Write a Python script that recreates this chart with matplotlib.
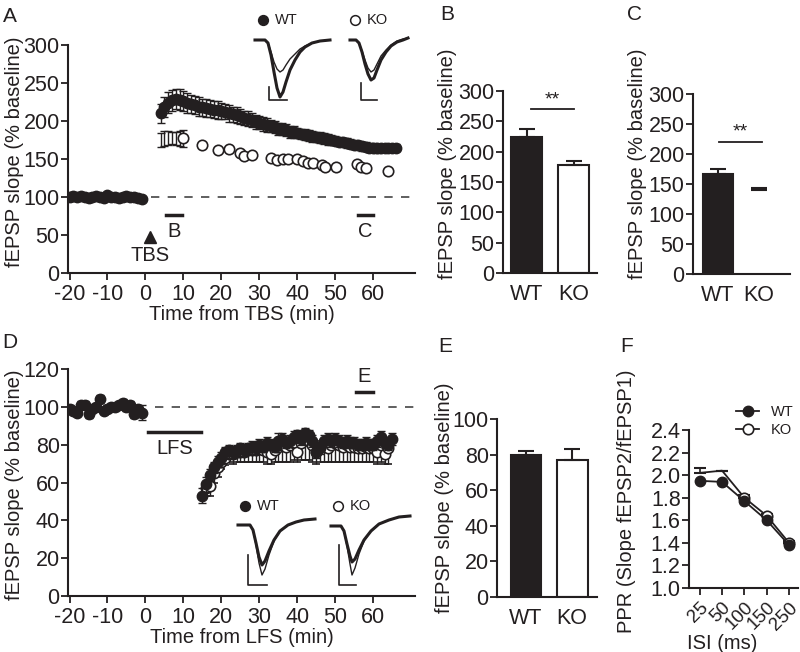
import numpy as np
import matplotlib
matplotlib.use('Agg')
import matplotlib.pyplot as plt
from matplotlib.lines import Line2D

plt.rcParams['font.family'] = ['Liberation Sans', 'DejaVu Sans']
plt.rcParams['font.size'] = 14.5
plt.rcParams['axes.unicode_minus'] = False
ink = '#231f20'
plt.rcParams['text.color'] = ink
plt.rcParams['axes.labelcolor'] = ink
plt.rcParams['xtick.color'] = ink
plt.rcParams['ytick.color'] = ink
plt.rcParams['xtick.labelsize'] = 15.5
plt.rcParams['ytick.labelsize'] = 15.5

# --- A: LTP after TBS ---
tbs_base_t = np.arange(-20, 0)
tbs_wt_base = [100, 101, 100, 101, 100, 99, 100, 101, 100, 99,
               102, 100, 100, 99, 100, 101, 100, 100, 99, 98]
tbs_wt_base_err = [2, 2, 1, 2, 2, 1, 2, 2, 1, 2, 2, 2, 1, 2, 2, 1, 2, 2, 1, 2]

tbs_wt_t = np.arange(4, 67)
tbs_wt = [210, 218, 224, 227, 229, 228, 226, 224, 222, 221,
          219, 218, 217, 216, 215, 214, 213, 212, 210, 209,
          208, 206, 204, 203, 201, 199, 198, 196, 195, 193,
          192, 190, 189, 188, 186, 185, 184, 183, 182, 181,
          180, 179, 178, 177, 176, 175, 174, 173, 172, 171,
          170, 169, 168, 167, 166, 165, 165, 164, 164, 164,
          164, 165, 165]
tbs_wt_err = [12, 13, 14, 14, 13, 14, 13, 13, 12, 12,
              12, 11, 12, 11, 11, 12, 11, 10, 11, 10,
              10, 10, 9, 10, 9, 9, 9, 9, 9, 8,
              8, 8, 8, 8, 8, 8, 7, 7, 7, 7,
              7, 7, 7, 7, 7, 6, 6, 6, 6, 6,
              6, 6, 6, 6, 6, 6, 6, 6, 5, 5,
              5, 5, 5]

tbs_ko_t = [4, 5, 6, 7, 8, 9, 10, 15, 19, 22, 25, 26, 28, 33, 34.6, 36.3,
            37.6, 39.8, 41.6, 42.9, 44.2, 46.4, 47.3, 50.2, 55.6, 56.9, 58.2, 63.9]
tbs_ko = [175, 177, 178, 178, 177, 177, 177, 168, 162, 163, 158, 154, 155, 151, 149, 150,
          150, 150, 147, 145, 145, 142, 140, 139, 144, 140, 138, 134]
tbs_ko_err = [9, 10, 9, 8, 9, 10, 11, 3, 3, 3, 3, 3, 3, 3, 3, 3,
              3, 3, 3, 3, 3, 3, 3, 3, 3, 3, 3, 3]
tbs_ko_shown = list(range(6, 28))

# --- B / C: LTP summary ---
groups = ['WT', 'KO']
b_vals = [224, 178]
b_err = [14, 7]
c_vals = [167, 140]
c_err = [8, 4]

# --- D: LTD after LFS ---
lfs_base_t = np.arange(-20, 0)
lfs_wt_base = [99, 98, 97, 101, 101, 96, 99, 100, 104, 98,
               99, 100, 100, 101, 102, 100, 101, 96, 99, 97]
lfs_wt_base_err = [2, 2, 2, 2, 2, 2, 2, 2, 2, 2, 2, 2, 2, 2, 2, 2, 2, 2, 2, 4]

lfs_wt_t = np.arange(15, 66)
lfs_wt = [53, 59, 64, 68, 71, 73, 76, 77, 76, 77,
          78, 77, 78, 79, 78, 80, 79, 81, 80, 79,
          82, 83, 81, 82, 84, 85, 83, 86, 85, 82,
          76, 78, 82, 83, 82, 83, 82, 81, 82, 81,
          81, 80, 80, 81, 80, 80, 82, 84, 81, 80,
          83]
lfs_wt_err = [4, 4, 3, 3, 3, 3, 3, 3, 3, 3,
              3, 3, 3, 3, 3, 3, 3, 3, 3, 3,
              4, 3, 3, 3, 3, 3, 3, 3, 3, 3,
              3, 3, 3, 3, 3, 3, 3, 3, 3, 3,
              3, 3, 3, 3, 3, 3, 3, 3, 3, 3,
              3]
lfs_ko_t = np.arange(16, 65)
lfs_ko = [57, 58, 65, 68, 71, 73, 75, 75, 76, 76,
          76, 77, 77, 77, 78, 77, 76, 75, 77, 79,
          80, 79, 80, 81, 76, 81, 83, 82, 80, 76,
          79, 80, 78, 80, 81, 80, 79, 80, 79, 79,
          78, 78, 79, 78, 78, 76, 80, 75, 78]
lfs_ko_err_lo = [4, 5, 5, 5, 4, 4, 4, 5, 5, 5,
                 5, 6, 6, 6, 7, 6, 6, 5, 6, 8,
                 9, 8, 9, 9, 5, 9, 11, 10, 9, 6,
                 8, 9, 7, 9, 10, 9, 8, 9, 8, 8,
                 7, 7, 8, 7, 7, 6, 9, 5, 8]
lfs_ko_err_hi = [3, 3, 3, 3, 3, 3, 3, 3, 3, 3,
                 3, 3, 3, 3, 3, 3, 3, 3, 3, 3,
                 3, 3, 3, 3, 3, 3, 3, 3, 3, 3,
                 3, 3, 3, 3, 3, 3, 3, 3, 3, 3,
                 3, 3, 3, 3, 3, 3, 3, 3, 3]

# --- E: LTD summary ---
e_vals = [80, 77]
e_err = [2, 6]

# --- F: paired-pulse ratio ---
isi = ['25', '50', '100', '150', '250']
ppr_wt = [1.95, 1.94, 1.77, 1.60, 1.38]
ppr_ko = [2.02, 2.04, 1.80, 1.64, 1.40]
ppr_ko_err = [0.04, 0.0, 0.02, 0.02, 0.02]
ppr_ko_shown = [2, 3, 4]

# --- example fEPSP traces (depth below baseline, px) ---
tr_a_wt_t = [0, 10, 13, 16, 19, 22, 25, 28, 31, 35, 40, 45, 50, 57, 65, 75]
tr_a_wt_post = [0, 0, 3, 15, 32, 48, 57, 52, 42, 30, 20, 12, 7, 3, 1, 0]
tr_a_wt_pre = [0, 0, 3, 12, 22, 29, 32, 30, 25, 19, 14, 9, 6, 3, 1, 0]
tr_a_ko_t = [0, 6, 9, 12, 15, 18, 21, 24, 27, 31, 36, 41, 47, 53, 58]
tr_a_ko_post = [0, 0, 3, 12, 24, 34, 40, 38, 30, 20, 12, 6, 2, 0, -2]
tr_a_ko_pre = [0, 0, 3, 11, 20, 28, 32, 30, 24, 16, 10, 5, 1, -1, -2]
tr_d_wt_t = [0, 12, 15, 18, 21, 24, 27, 31, 36, 42, 50, 58, 66, 77]
tr_d_wt_post = [0, 0, 5, 18, 32, 40, 36, 26, 15, 6, 0, -3, -5, -6]
tr_d_wt_pre = [0, 0, 5, 20, 38, 50, 44, 30, 16, 6, 0, -3, -5, -6]
tr_d_ko_t = [0, 10, 13, 16, 19, 21, 24, 28, 33, 40, 48, 58, 68, 79]
tr_d_ko_post = [0, 0, 5, 18, 30, 36, 33, 24, 14, 5, -2, -6, -9, -10]
tr_d_ko_pre = [0, 0, 5, 20, 38, 49, 42, 28, 15, 5, -2, -6, -9, -10]

W, H = 800, 652
fig = plt.figure(figsize=(8, 6.52), dpi=100)


def rect(l, t, r, b):
    return [l / W, 1 - b / H, (r - l) / W, (b - t) / H]


def style(ax):
    for s in ['top', 'right']:
        ax.spines[s].set_visible(False)
    for s in ['left', 'bottom']:
        ax.spines[s].set_linewidth(1.5)
        ax.spines[s].set_color(ink)
    ax.tick_params(width=1.3, length=5, pad=1)


ylab = 'fEPSP slope (% baseline)'

# ---------- A ----------
axA = fig.add_axes(rect(68, 45, 415, 273))
style(axA)
axA.errorbar(tbs_ko_t, tbs_ko, yerr=tbs_ko_err, fmt='none', ecolor=ink, elinewidth=1, capsize=3, zorder=2)
axA.plot(tbs_ko_t, tbs_ko, 'o', ms=7.5, mfc='white', mec=ink, mew=1.2, markevery=tbs_ko_shown, zorder=3)
axA.errorbar(tbs_base_t, tbs_wt_base, yerr=tbs_wt_base_err, fmt='o', ms=7.5, color=ink,
             elinewidth=1, capsize=2.5, zorder=4)
axA.errorbar(tbs_wt_t, tbs_wt, yerr=tbs_wt_err, fmt='o', ms=7.5, color=ink, mec=ink,
             elinewidth=1, capsize=3, zorder=4)
axA.axhline(100, xmin=0.24, color='#444444', lw=1.2, ls=(0, (5, 5)))
axA.plot([5.5, 9.5], [76, 76], color=ink, lw=2.5)
axA.plot([56, 60], [76, 76], color=ink, lw=2.5)
axA.text(7.5, 55, 'B', ha='center', va='center')
axA.text(58, 55, 'C', ha='center', va='center')
axA.plot([1.1], [48], marker='^', ms=8, color=ink)
axA.text(1.1, 23, 'TBS', ha='center', va='center')
axA.set_xlim(-20.4, 71)
axA.set_ylim(0, 300)
axA.set_xticks(range(-20, 61, 10))
axA.set_yticks(range(0, 301, 50))
axA.tick_params(axis='x', pad=3)
axA.set_xlabel('Time from TBS (min)', labelpad=0)
axA.set_ylabel(ylab)
axA.yaxis.set_label_coords(-0.127, 0.53)

# ---------- B ----------
axB = fig.add_axes(rect(503, 91, 597, 273))
style(axB)
axB.bar([0, 1], b_vals, width=0.64, color=[ink, 'white'], edgecolor=ink, linewidth=1.5)
axB.errorbar([0, 1], b_vals, yerr=[[0, 0], b_err], fmt='none', ecolor=ink, elinewidth=1.5, capsize=6, capthick=1.5)
axB.plot([0.1, 1.0], [270, 270], color=ink, lw=1.3)
axB.text(0.55, 272, '**', ha='center', va='bottom', fontsize=14)
axB.set_xlim(-0.5, 1.5)
axB.set_ylim(0, 300)
axB.set_yticks(range(0, 301, 50))
axB.set_xticks([0, 1])
axB.set_xticklabels(groups)
axB.tick_params(axis='x', length=0, pad=8)
axB.set_ylabel(ylab)
axB.yaxis.set_label_coords(-0.49, 0.6)

# ---------- C ----------
axC = fig.add_axes(rect(693, 94, 790, 274))
style(axC)
axC.bar([0, 1], c_vals, width=0.73, color=[ink, 'white'], edgecolor=[ink, 'none'], linewidth=1.5)
axC.errorbar([0, 1], c_vals, yerr=[[0, 0], c_err], fmt='none', ecolor=ink, elinewidth=1.5, capsize=6, capthick=1.5)
axC.plot([0.03, 1.07], [220, 220], color=ink, lw=1.3)
axC.text(0.55, 222, '**', ha='center', va='bottom', fontsize=14)
axC.set_xlim(-0.61, 1.76)
axC.set_ylim(0, 300)
axC.set_yticks(range(0, 301, 50))
axC.set_xticks([0, 1])
axC.set_xticklabels(groups)
axC.tick_params(axis='x', length=0, pad=8)
axC.set_ylabel(ylab)
axC.yaxis.set_label_coords(-0.47, 0.61)

# ---------- D ----------
axD = fig.add_axes(rect(68, 369, 415, 596))
style(axD)
axD.errorbar(lfs_ko_t, lfs_ko, yerr=[lfs_ko_err_lo, lfs_ko_err_hi], fmt='o', ms=7.5, mfc='white',
             mec=ink, mew=1.2, ecolor=ink, elinewidth=1, capsize=3, zorder=2)
axD.errorbar(lfs_base_t, lfs_wt_base, yerr=lfs_wt_base_err, fmt='o', ms=7.5, color=ink,
             elinewidth=1, capsize=3, zorder=4)
axD.errorbar(lfs_wt_t, lfs_wt, yerr=lfs_wt_err, fmt='o', ms=7.5, color=ink,
             elinewidth=1, capsize=3, zorder=4)
axD.axhline(100, xmin=0.25, color='#444444', lw=1.2, ls=(0, (5, 5)))
axD.plot([0.8, 14.7], [86.7, 86.7], color=ink, lw=2.5)
axD.text(7.8, 78, 'LFS', ha='center', va='center')
axD.plot([55.4, 60], [108, 108], color=ink, lw=2.5)
axD.text(57.7, 116, 'E', ha='center', va='center')
axD.set_xlim(-20.4, 71)
axD.set_ylim(0, 120)
axD.set_xticks(range(-20, 61, 10))
axD.set_yticks(range(0, 121, 20))
axD.tick_params(axis='x', pad=3)
axD.set_xlabel('Time from LFS (min)', labelpad=0)
axD.set_ylabel(ylab)
axD.yaxis.set_label_coords(-0.127, 0.49)

# ---------- E ----------
axE = fig.add_axes(rect(497, 419, 597, 597))
style(axE)
axE.bar([0, 1], e_vals, width=0.67, color=[ink, 'white'], edgecolor=ink, linewidth=1.5)
axE.errorbar([0, 1], e_vals, yerr=[[0, 0], e_err], fmt='none', ecolor=ink, elinewidth=1.5, capsize=6, capthick=1.5)
axE.set_xlim(-0.63, 1.54)
axE.set_ylim(0, 100)
axE.set_yticks(range(0, 101, 20))
axE.set_xticks([0, 1])
axE.set_xticklabels(groups)
axE.tick_params(axis='x', length=0, pad=8)
axE.set_ylabel(ylab)
axE.yaxis.set_label_coords(-0.43, 0.56)

# ---------- F ----------
axF = fig.add_axes(rect(689, 430, 798, 588))
style(axF)
xf = np.arange(len(isi))
axF.errorbar(xf, ppr_ko, yerr=[[0] * len(isi), ppr_ko_err], fmt='none', ecolor=ink,
             elinewidth=1.2, capsize=4, capthick=1.5, zorder=2)
axF.plot(xf, ppr_ko, '-o', color=ink, lw=1.3, ms=7.5, mfc='white', mec=ink, mew=1.2,
         markevery=ppr_ko_shown, zorder=3)
axF.plot(xf, ppr_wt, '-o', color=ink, lw=1.3, ms=7.5, zorder=4)
axF.set_xlim(-0.48, 4.4)
axF.set_ylim(1.0, 2.4)
axF.set_yticks(np.arange(1.0, 2.41, 0.2))
axF.yaxis.set_major_formatter(matplotlib.ticker.FormatStrFormatter('%.1f'))
axF.set_xticks(xf)
axF.set_xticklabels(isi, rotation=45, ha='right', rotation_mode='anchor', fontsize=13.5)
axF.tick_params(axis='x', pad=3)
axF.set_xlabel('ISI (ms)')
axF.xaxis.set_label_coords(0.30, -0.29)
axF.set_ylabel('PPR (Slope fEPSP2/fEPSP1)')
axF.yaxis.set_label_coords(-0.49, 0.55)
handles = [Line2D([], [], color=ink, marker='o', ms=7.5, lw=1.3),
           Line2D([], [], color=ink, marker='o', ms=7.5, lw=1.3, mfc='white', mew=1.2)]
axF.legend(handles, groups, loc='upper left', bbox_to_anchor=(736 / W, 1 - 405 / H),
           bbox_transform=fig.transFigure, frameon=False, fontsize=10.5, handlelength=1.6,
           handletextpad=0.8, labelspacing=0.3, borderpad=0, borderaxespad=0)

# ---------- inset traces / legends ----------
ov = fig.add_axes([0, 0, 1, 1], zorder=10)
ov.set_xlim(0, W)
ov.set_ylim(H, 0)
ov.axis('off')


def trace(x0, y0, t, pre, post):
    ov.plot(x0 + np.array(t), y0 + np.array(pre), color=ink, lw=1.0)
    ov.plot(x0 + np.array(t), y0 + np.array(post), color=ink, lw=2.2)


trace(255, 40, tr_a_wt_t, tr_a_wt_pre, tr_a_wt_post)
trace(350, 40, tr_a_ko_t, tr_a_ko_pre, tr_a_ko_post)
trace(238, 525, tr_d_wt_t, tr_d_wt_pre, tr_d_wt_post)
trace(331, 526, tr_d_ko_t, tr_d_ko_pre, tr_d_ko_post)

for (sx, sy0, sy1, sx1) in [(269, 87, 100, 287), (361, 83, 100, 377),
                            (248, 555, 585, 267), (339, 545, 585, 356)]:
    ov.plot([sx, sx, sx1], [sy0, sy1, sy1], color=ink, lw=1.2)

for (mx, my, filled, lab) in [(263, 20, True, 'WT'), (355, 20, False, 'KO'),
                              (245, 506, True, 'WT'), (338, 506, False, 'KO')]:
    ov.plot([mx], [my], 'o', ms=7, color=ink, mfc=ink if filled else 'white', mew=1.1)
    ov.text(mx + 12, my, lab, va='center', ha='left', fontsize=10.5)

for (lab, lx, ly) in [('A', 3, 16), ('B', 440, 14), ('C', 627, 14),
                      ('D', 2, 343), ('E', 438, 346), ('F', 620, 346)]:
    ov.text(lx, ly, lab, fontsize=15, ha='left', va='center')

fig.savefig('out.png', dpi=100)
